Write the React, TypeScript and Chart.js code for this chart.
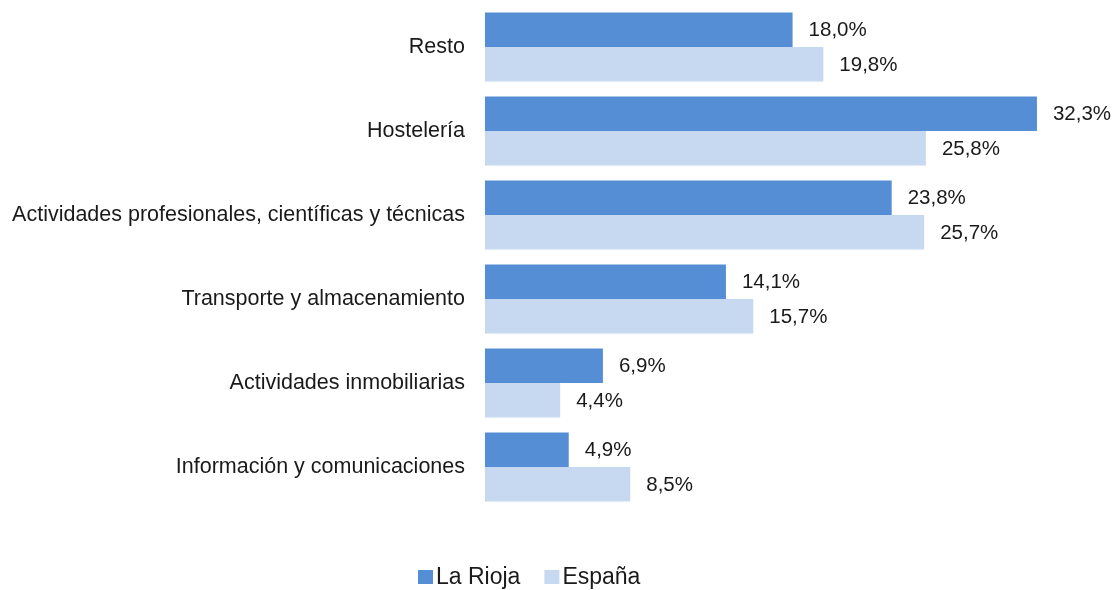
import React, { useEffect, useRef } from "react";
import { Chart, registerables } from "chart.js";

Chart.register(...registerables);

const categories = [
  "Resto",
  "Hostelería",
  "Actividades profesionales, científicas y técnicas",
  "Transporte y almacenamiento",
  "Actividades inmobiliarias",
  "Información y comunicaciones",
];
const laRioja = [18.0, 32.3, 23.8, 14.1, 6.9, 4.9];
const espana = [19.8, 25.8, 25.7, 15.7, 4.4, 8.5];
const seriesNames = ["La Rioja", "España"];
const seriesColors = ["#558ED5", "#C6D9F1"];

const FONT = "'Liberation Sans', Arial, Helvetica, sans-serif";

const fmt = (v: number) => v.toFixed(1).replace(".", ",") + "%";

const labelPlugin = {
  id: "barLabels",
  afterDatasetsDraw(chart: any) {
    const ctx = chart.ctx;
    ctx.save();
    ctx.font = `20.5px ${FONT}`;
    ctx.fillStyle = "#1a1a1a";
    ctx.textAlign = "left";
    ctx.textBaseline = "middle";
    chart.data.datasets.forEach((ds: any, i: number) => {
      const meta = chart.getDatasetMeta(i);
      meta.data.forEach((bar: any, j: number) => {
        ctx.fillText(fmt(ds.data[j]), bar.x + 16, bar.y + 1);
      });
    });
    ctx.restore();
  },
};

const legendPlugin = {
  id: "customLegend",
  afterDraw(chart: any) {
    const ctx = chart.ctx;
    ctx.save();
    ctx.font = `23px ${FONT}`;
    ctx.textBaseline = "middle";
    ctx.textAlign = "left";
    const cy = 577;
    let x = 418;
    seriesNames.forEach((name, i) => {
      ctx.fillStyle = seriesColors[i];
      ctx.fillRect(x, cy - 7, 15, 14);
      ctx.fillStyle = "#1a1a1a";
      ctx.fillText(name, x + 18, cy + 1);
      x += 18 + ctx.measureText(name).width + 24;
    });
    ctx.restore();
  },
};

export default function App() {
  const ref = useRef<HTMLCanvasElement | null>(null);
  useEffect(() => {
    if (!ref.current) return;
    const chart = new Chart(ref.current, {
      type: "bar",
      data: {
        labels: categories,
        datasets: [
          {
            label: seriesNames[0],
            data: laRioja,
            backgroundColor: seriesColors[0],
            categoryPercentage: 0.82,
            barPercentage: 1,
          },
          {
            label: seriesNames[1],
            data: espana,
            backgroundColor: seriesColors[1],
            categoryPercentage: 0.82,
            barPercentage: 1,
          },
        ],
      },
      options: {
        indexAxis: "y",
        animation: false,
        responsive: false,
        maintainAspectRatio: false,
        layout: { padding: { top: 5, bottom: 81, right: 52, left: 0 } },
        plugins: {
          legend: { display: false },
          tooltip: { enabled: false },
        },
        scales: {
          x: {
            display: false,
            min: 0,
            max: 34,
          },
          y: {
            grid: { display: false, drawTicks: false },
            border: { display: false },
            ticks: {
              padding: 20,
              color: "#1a1a1a",
              font: { family: FONT, size: 21.5 },
            },
            afterFit: (s: any) => {
              s.width = 485;
              s.paddingTop = 0;
              s.paddingBottom = 0;
            },
          },
        },
      },
      plugins: [labelPlugin, legendPlugin],
    });
    return () => chart.destroy();
  }, []);
  return (
    <div style={{ position: "fixed", left: 0, top: 0, width: 1118, height: 590, background: "#fff" }}>
      <canvas ref={ref} width={1118} height={590} style={{ width: 1118, height: 590 }} />
    </div>
  );
}
